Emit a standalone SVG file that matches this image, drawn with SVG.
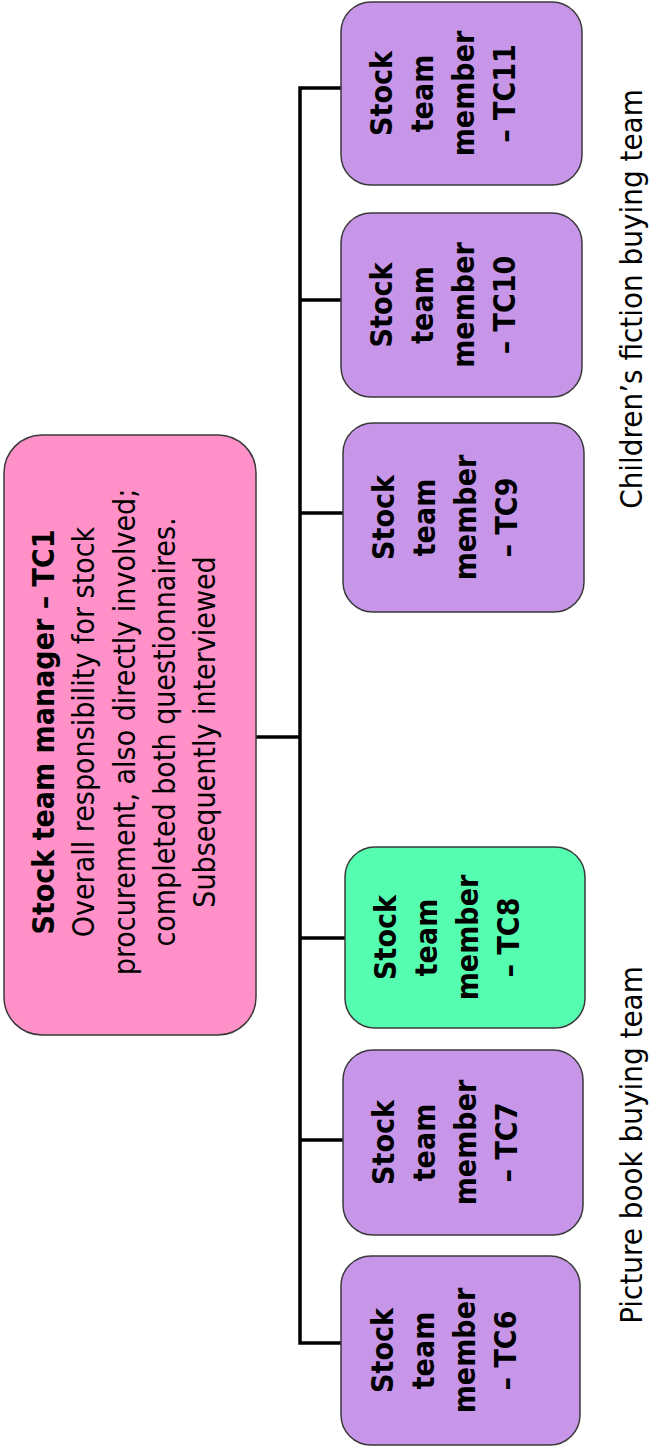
<svg xmlns="http://www.w3.org/2000/svg" width="655" height="1450" viewBox="0 0 655 1450">
<style>
.box{stroke:#3a3a3a;stroke-width:1.5}
.purple{fill:#C796E9}
.green{fill:#55FDB1}
.pink{fill:#FF90C8}
.conn{fill:none;stroke:#000;stroke-width:3.5}
.b{font-family:"DejaVu Sans Condensed","DejaVu Sans",sans-serif;font-weight:bold;font-size:30px;fill:#000;text-anchor:middle}
.r{font-family:"DejaVu Sans Condensed","DejaVu Sans",sans-serif;font-size:30px;fill:#000;text-anchor:middle}
.lbl{font-family:"DejaVu Sans Condensed","DejaVu Sans",sans-serif;font-size:31px;fill:#000;text-anchor:middle}
</style>
<rect width="655" height="1450" fill="#fff"/>
<g id="connectors">
<path class="conn" d="M341,88 H300 V1343 H341"/>
<line class="conn" x1="300" y1="300" x2="344" y2="300"/>
<line class="conn" x1="300" y1="513" x2="343" y2="513"/>
<line class="conn" x1="300" y1="938" x2="345" y2="938"/>
<line class="conn" x1="300" y1="1140" x2="343" y2="1140"/>
<line class="conn" x1="256" y1="737" x2="300" y2="737"/>
</g>
<g id="tc1">
<rect class="box pink" x="4" y="435" width="252" height="600" rx="38"/>
<g transform="translate(0,732) rotate(-90)">
<text class="b" x="0" y="54">Stock team manager – TC1</text>
<text class="r" x="0" y="94">Overall responsibility for stock</text>
<text class="r" x="0" y="135">procurement, also directly involved;</text>
<text class="r" x="0" y="175">completed both questionnaires.</text>
<text class="r" x="0" y="215">Subsequently interviewed</text>
</g>
</g>
<g id="tc11">
<rect class="box purple" x="341" y="2" width="241" height="183" rx="30"/>
<g transform="translate(341,93.5) rotate(-90)">
<text class="b" x="0" y="51">Stock</text><text class="b" x="0" y="92">team</text><text class="b" x="0" y="133">member</text><text class="b" x="0" y="174">– TC11</text>
</g>
</g>
<g id="tc10">
<rect class="box purple" x="341" y="213" width="241" height="184" rx="30"/>
<g transform="translate(341,305) rotate(-90)">
<text class="b" x="0" y="51">Stock</text><text class="b" x="0" y="92">team</text><text class="b" x="0" y="133">member</text><text class="b" x="0" y="174">– TC10</text>
</g>
</g>
<g id="tc9">
<rect class="box purple" x="343" y="423" width="241" height="189" rx="30"/>
<g transform="translate(343,517.5) rotate(-90)">
<text class="b" x="0" y="51">Stock</text><text class="b" x="0" y="92">team</text><text class="b" x="0" y="133">member</text><text class="b" x="0" y="174">– TC9</text>
</g>
</g>
<g id="tc8">
<rect class="box green" x="345" y="847" width="240" height="181" rx="30"/>
<g transform="translate(345,937.5) rotate(-90)">
<text class="b" x="0" y="51">Stock</text><text class="b" x="0" y="92">team</text><text class="b" x="0" y="133">member</text><text class="b" x="0" y="174">– TC8</text>
</g>
</g>
<g id="tc7">
<rect class="box purple" x="343" y="1050" width="240" height="185" rx="30"/>
<g transform="translate(343,1142.5) rotate(-90)">
<text class="b" x="0" y="51">Stock</text><text class="b" x="0" y="92">team</text><text class="b" x="0" y="133">member</text><text class="b" x="0" y="174">– TC7</text>
</g>
</g>
<g id="tc6">
<rect class="box purple" x="341" y="1256" width="239" height="189" rx="30"/>
<g transform="translate(341,1350.5) rotate(-90)">
<text class="b" x="0" y="52">Stock</text><text class="b" x="0" y="93">team</text><text class="b" x="0" y="134">member</text><text class="b" x="0" y="175">– TC6</text>
</g>
</g>
<g id="labels">
<text class="lbl" transform="translate(642,299) rotate(-90)">Children’s fiction buying team</text>
<text class="lbl" transform="translate(642,1145) rotate(-90)">Picture book buying team</text>
</g>
</svg>
